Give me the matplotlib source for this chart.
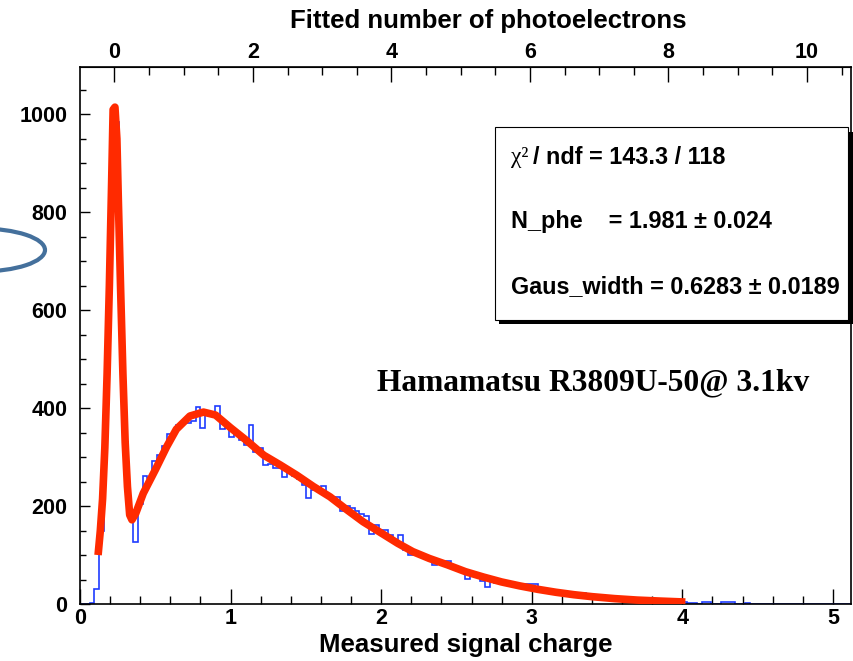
import numpy as np
import matplotlib
matplotlib.use("Agg")
import matplotlib.pyplot as plt
from matplotlib.patches import Rectangle, Ellipse
from matplotlib.ticker import MultipleLocator, FixedLocator

plt.rcParams['font.family'] = ['Liberation Sans', 'DejaVu Sans']
plt.rcParams['font.weight'] = 'bold'

# histogram: 160 bins of 0.032 from 0 to 5.12
bin_lo, bin_hi, n_bins = 0.0, 5.12, 160
counts = [0, 0, 2, 31, 150, 450, 880, 985, 650, 330, 178, 127,
          205, 262, 258, 292, 304, 322, 348, 350, 366, 372, 370, 374, 403, 360,
          388, 384, 405, 357, 360, 342, 348, 336, 325, 366, 311, 318, 284, 285,
          277, 278, 259, 268, 262, 255, 244, 216, 233, 232, 241, 222, 213, 219,
          189, 200, 196, 190, 184, 180, 144, 161, 151, 151, 140, 124, 141,
          110, 100, 100, 98, 96, 93, 80, 85, 84, 87, 75, 70, 65, 52, 57, 57, 46,
          34, 45, 43, 46, 46, 38, 36, 36, 40, 40, 40, 30, 28, 27, 28, 23, 20, 20,
          18, 22, 22, 15, 14, 14, 12, 12, 10, 11,
          10, 9, 8, 9, 7, 8, 6, 7, 6, 6, 5, 5, 4, 5,
          3, 3, 1, 4, 4, 1, 1, 4, 4, 4, 1, 1, 2, 1, 1, 1, 0, 1, 1, 0, 1, 0, 1, 0,
          1, 0, 0, 1, 0, 1, 0, 0, 1, 0]

# fitted curve
fit_x = [0.12, 0.135, 0.15, 0.165, 0.18, 0.195, 0.21, 0.22, 0.232, 0.245, 0.255,
         0.27, 0.285, 0.30, 0.315, 0.33, 0.345, 0.37, 0.42, 0.50, 0.575, 0.64,
         0.73, 0.82, 0.90, 1.0, 1.11, 1.22, 1.33, 1.44, 1.55, 1.66, 1.77, 1.88,
         1.99, 2.11, 2.21, 2.32, 2.44, 2.56, 2.68, 2.80, 2.92, 3.04, 3.16, 3.28,
         3.40, 3.55, 3.70, 3.85, 4.02]
fit_y = [100, 150, 215, 320, 470, 650, 860, 1010, 1015, 950, 820, 640, 470, 330,
         240, 182, 172, 185, 226, 274, 321, 357, 384, 392, 386, 360, 333, 304,
         284, 263, 240, 219, 193, 168, 147, 124, 107, 93, 80, 66, 55, 45, 37,
         30, 24, 19, 15, 11, 8, 6, 4]

# top axis: photoelectron scale
ped_pos = 0.228
pe_gain = 0.46
pe_ticks = [0, 2, 4, 6, 8, 10]

stat_rest = ["/ ndf = 143.3 / 118",
             "N_phe    = 1.981 \u00b1 0.024",
             "Gaus_width = 0.6283 \u00b1 0.0189"]
label_txt = "Hamamatsu R3809U-50@ 3.1kv"

W, H = 854, 661
fig = plt.figure(figsize=(W / 100, H / 100), dpi=100)
ax = fig.add_axes([80 / W, 57 / H, 771 / W, 537 / H])

edges = np.linspace(bin_lo, bin_hi, n_bins + 1)
ax.stairs(counts, edges, color='#1f3cff', linewidth=1.2, zorder=2)
ax.plot(fit_x, fit_y, color='#ff2a00', linewidth=5.5, zorder=3,
        solid_joinstyle='round', solid_capstyle='butt')

ax.set_xlim(0, 5.12)
ax.set_ylim(0, 1097)
ax.xaxis.set_major_locator(MultipleLocator(1))
ax.xaxis.set_minor_locator(MultipleLocator(0.2))
ax.yaxis.set_major_locator(MultipleLocator(200))
ax.yaxis.set_minor_locator(MultipleLocator(50))
ax.tick_params(axis='x', which='major', direction='in', length=11, width=1, labelsize=15.5, pad=3)
ax.tick_params(axis='x', which='minor', direction='in', length=6, width=1)
ax.tick_params(axis='y', which='major', direction='in', length=7, width=1, labelsize=15.5, pad=9)
ax.tick_params(axis='y', which='minor', direction='in', length=4, width=1)
for s in ax.spines.values():
    s.set_linewidth(1.2)
ax.set_xlabel("Measured signal charge", fontsize=18.5, fontweight='bold', labelpad=3)

top = ax.secondary_xaxis('top', functions=(lambda x: (x - ped_pos) / pe_gain,
                                           lambda n: n * pe_gain + ped_pos))
top.xaxis.set_major_locator(FixedLocator(pe_ticks))
top.xaxis.set_minor_locator(FixedLocator(np.arange(-0.5, 10.6, 0.5)))
top.tick_params(axis='x', which='major', direction='in', length=11, width=1, labelsize=15.5, pad=3)
top.tick_params(axis='x', which='minor', direction='in', length=6, width=1)
fig.text(488 / W, 1 - 21 / H, "Fitted number of photoelectrons", fontsize=18.5,
         fontweight='bold', ha='center', va='center')

# stats box with shadow
fig.add_artist(Rectangle((499 / W, 1 - 324 / H), 354 / W, 192 / H, transform=fig.transFigure,
                         facecolor='black', edgecolor='none', zorder=5))
fig.add_artist(Rectangle((495 / W, 1 - 320 / H), 353 / W, 193 / H, transform=fig.transFigure,
                         facecolor='white', edgecolor='black', linewidth=0.8, zorder=6))
fig.text(511 / W, 1 - 158 / H, "\u03c7\u00b2", fontsize=16.8, fontweight='normal',
         family='Liberation Serif', va='center', ha='left', zorder=7)
fig.text(533 / W, 1 - 158 / H, stat_rest[0], fontsize=16.8, fontweight='bold',
         va='center', ha='left', zorder=7)
for txt, yy in zip(stat_rest[1:], [222, 287]):
    fig.text(511 / W, 1 - yy / H, txt, fontsize=16.8, fontweight='bold',
             va='center', ha='left', zorder=7)

fig.text(377 / W, 1 - 383 / H, label_txt, family='Liberation Serif',
         fontsize=22.7, fontweight='bold', va='center', ha='left')

# stray arc at the left edge
fig.add_artist(Ellipse((-20 / W, 1 - 250 / H), 130 / W, 43 / H, transform=fig.transFigure,
                       facecolor='none', edgecolor='#44709c', linewidth=3))

fig.savefig("out.png", dpi=100)
